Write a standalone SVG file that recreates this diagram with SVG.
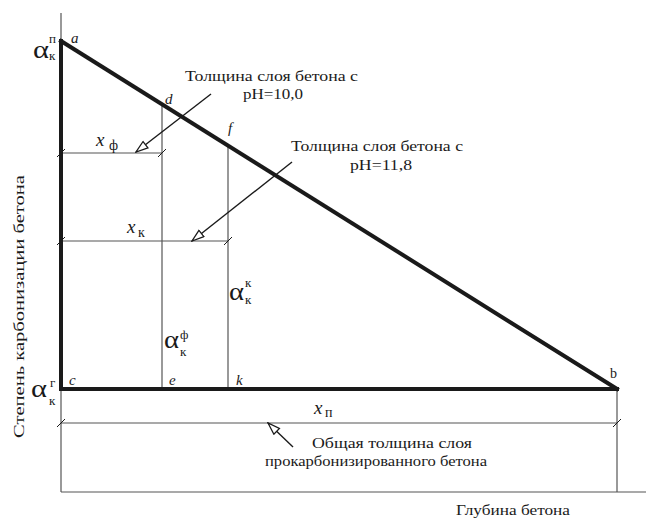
<svg xmlns="http://www.w3.org/2000/svg" width="646" height="521" viewBox="0 0 646 521" font-family="'Liberation Serif', 'Times New Roman', serif">
<defs>
<style>
.thick{stroke:#1a1a1a;stroke-width:4;fill:none;stroke-linecap:square}
.thin{stroke:#555;stroke-width:1.2;fill:none}
.lead{stroke:#1a1a1a;stroke-width:1.4;fill:none}
.tick{stroke:#1a1a1a;stroke-width:1;fill:none}
text{font-family:"Liberation Serif","Times New Roman",serif;fill:#1a1a1a}
.lbl{font-size:14px}
.pt{font-size:15px;font-style:italic}
.al{font-size:26px}
.sm{font-size:13px}
.xv{font-size:19px;font-style:italic}
</style>
<marker id="hollow" viewBox="0 0 14 10" refX="13" refY="5" markerWidth="14" markerHeight="10" markerUnits="userSpaceOnUse" orient="auto">
<path d="M1,1 L13,5 L1,9 Z" fill="#fff" stroke="#1a1a1a" stroke-width="1.3"/>
</marker>
</defs>
<g id="connectors">
<line class="thin" x1="61" y1="13" x2="61" y2="492"/>
<line class="thin" x1="61" y1="492" x2="646" y2="492"/>
<line class="thin" x1="617" y1="389" x2="617" y2="492"/>
<line class="thin" x1="162" y1="104" x2="162" y2="389"/>
<line class="thin" x1="228" y1="146" x2="228" y2="389"/>
<line class="thin" x1="61" y1="153" x2="162" y2="153"/>
<line class="thin" x1="61" y1="241" x2="228" y2="241"/>
<line class="thin" x1="61" y1="423" x2="617" y2="423"/>
<line class="tick" x1="57" y1="157" x2="65" y2="149"/>
<line class="tick" x1="158" y1="157" x2="166" y2="149"/>
<line class="tick" x1="57" y1="245" x2="65" y2="237"/>
<line class="tick" x1="224" y1="245" x2="232" y2="237"/>
<line class="tick" x1="57" y1="427" x2="65" y2="419"/>
<line class="tick" x1="613" y1="427" x2="621" y2="419"/>
<line class="thick" x1="61" y1="41" x2="61" y2="389"/>
<line class="thick" x1="61" y1="389" x2="617" y2="389"/>
<line class="thick" x1="61" y1="41" x2="617" y2="389"/>
<line class="lead" x1="211" y1="94" x2="136" y2="152" marker-end="url(#hollow)"/>
<line class="lead" x1="292" y1="162" x2="192" y2="241" marker-end="url(#hollow)"/>
<line class="lead" x1="293" y1="447" x2="268" y2="423" marker-end="url(#hollow)"/>
</g>
<g id="point-labels">
<text class="pt" x="71" y="43">a</text>
<text class="pt" x="165" y="104">d</text>
<text class="pt" x="228" y="133">f</text>
<text class="lbl" x="610" y="378" font-size="16">b</text>
<text class="pt" x="69" y="385">c</text>
<text class="pt" x="169" y="385">e</text>
<text class="pt" x="236" y="385">k</text>
</g>
<g id="alpha-p">
<text class="al" x="33" y="58" textLength="16" lengthAdjust="spacingAndGlyphs">α</text>
<text class="sm" x="49" y="43">п</text>
<text class="sm" x="49" y="60">к</text>
</g>
<g id="alpha-g">
<text class="al" x="31" y="397" textLength="16" lengthAdjust="spacingAndGlyphs">α</text>
<text class="sm" x="50" y="387">г</text>
<text class="sm" x="49" y="405">к</text>
</g>
<g id="alpha-k">
<text class="al" x="229" y="300" textLength="15" lengthAdjust="spacingAndGlyphs">α</text>
<text class="sm" x="245" y="287">к</text>
<text class="sm" x="245" y="304">к</text>
</g>
<g id="alpha-f">
<text class="al" x="164" y="348" textLength="15" lengthAdjust="spacingAndGlyphs">α</text>
<text class="sm" x="180" y="339">ф</text>
<text class="sm" x="180" y="356">к</text>
</g>
<g id="dim-labels">
<text class="xv" x="96" y="146">x</text>
<text class="lbl" x="109" y="150" font-size="16">ф</text>
<text class="xv" x="127" y="233">x</text>
<text class="lbl" x="138" y="237" font-size="16">к</text>
<text class="xv" x="314" y="414">x</text>
<text class="lbl" x="325" y="417" font-size="16">п</text>
</g>
<g id="note1">
<text class="lbl" x="185" y="81" textLength="173" lengthAdjust="spacingAndGlyphs">Толщина слоя бетона с</text>
<text class="lbl" x="243" y="99" textLength="60" lengthAdjust="spacingAndGlyphs">pH=10,0</text>
</g>
<g id="note2">
<text class="lbl" x="291" y="151" textLength="172" lengthAdjust="spacingAndGlyphs">Толщина слоя бетона с</text>
<text class="lbl" x="350" y="170" textLength="62" lengthAdjust="spacingAndGlyphs">pH=11,8</text>
</g>
<g id="note3">
<text class="lbl" x="312" y="448" textLength="160" lengthAdjust="spacingAndGlyphs">Общая толщина слоя</text>
<text class="lbl" x="265" y="466" textLength="222" lengthAdjust="spacingAndGlyphs">прокарбонизированного бетона</text>
</g>
<g id="axis-labels">
<text class="lbl" x="456" y="515" textLength="114" lengthAdjust="spacingAndGlyphs">Глубина бетона</text>
<text class="lbl" transform="translate(24,438) rotate(-90)" x="0" y="0" textLength="263" lengthAdjust="spacingAndGlyphs">Степень карбонизации бетона</text>
</g>
</svg>
